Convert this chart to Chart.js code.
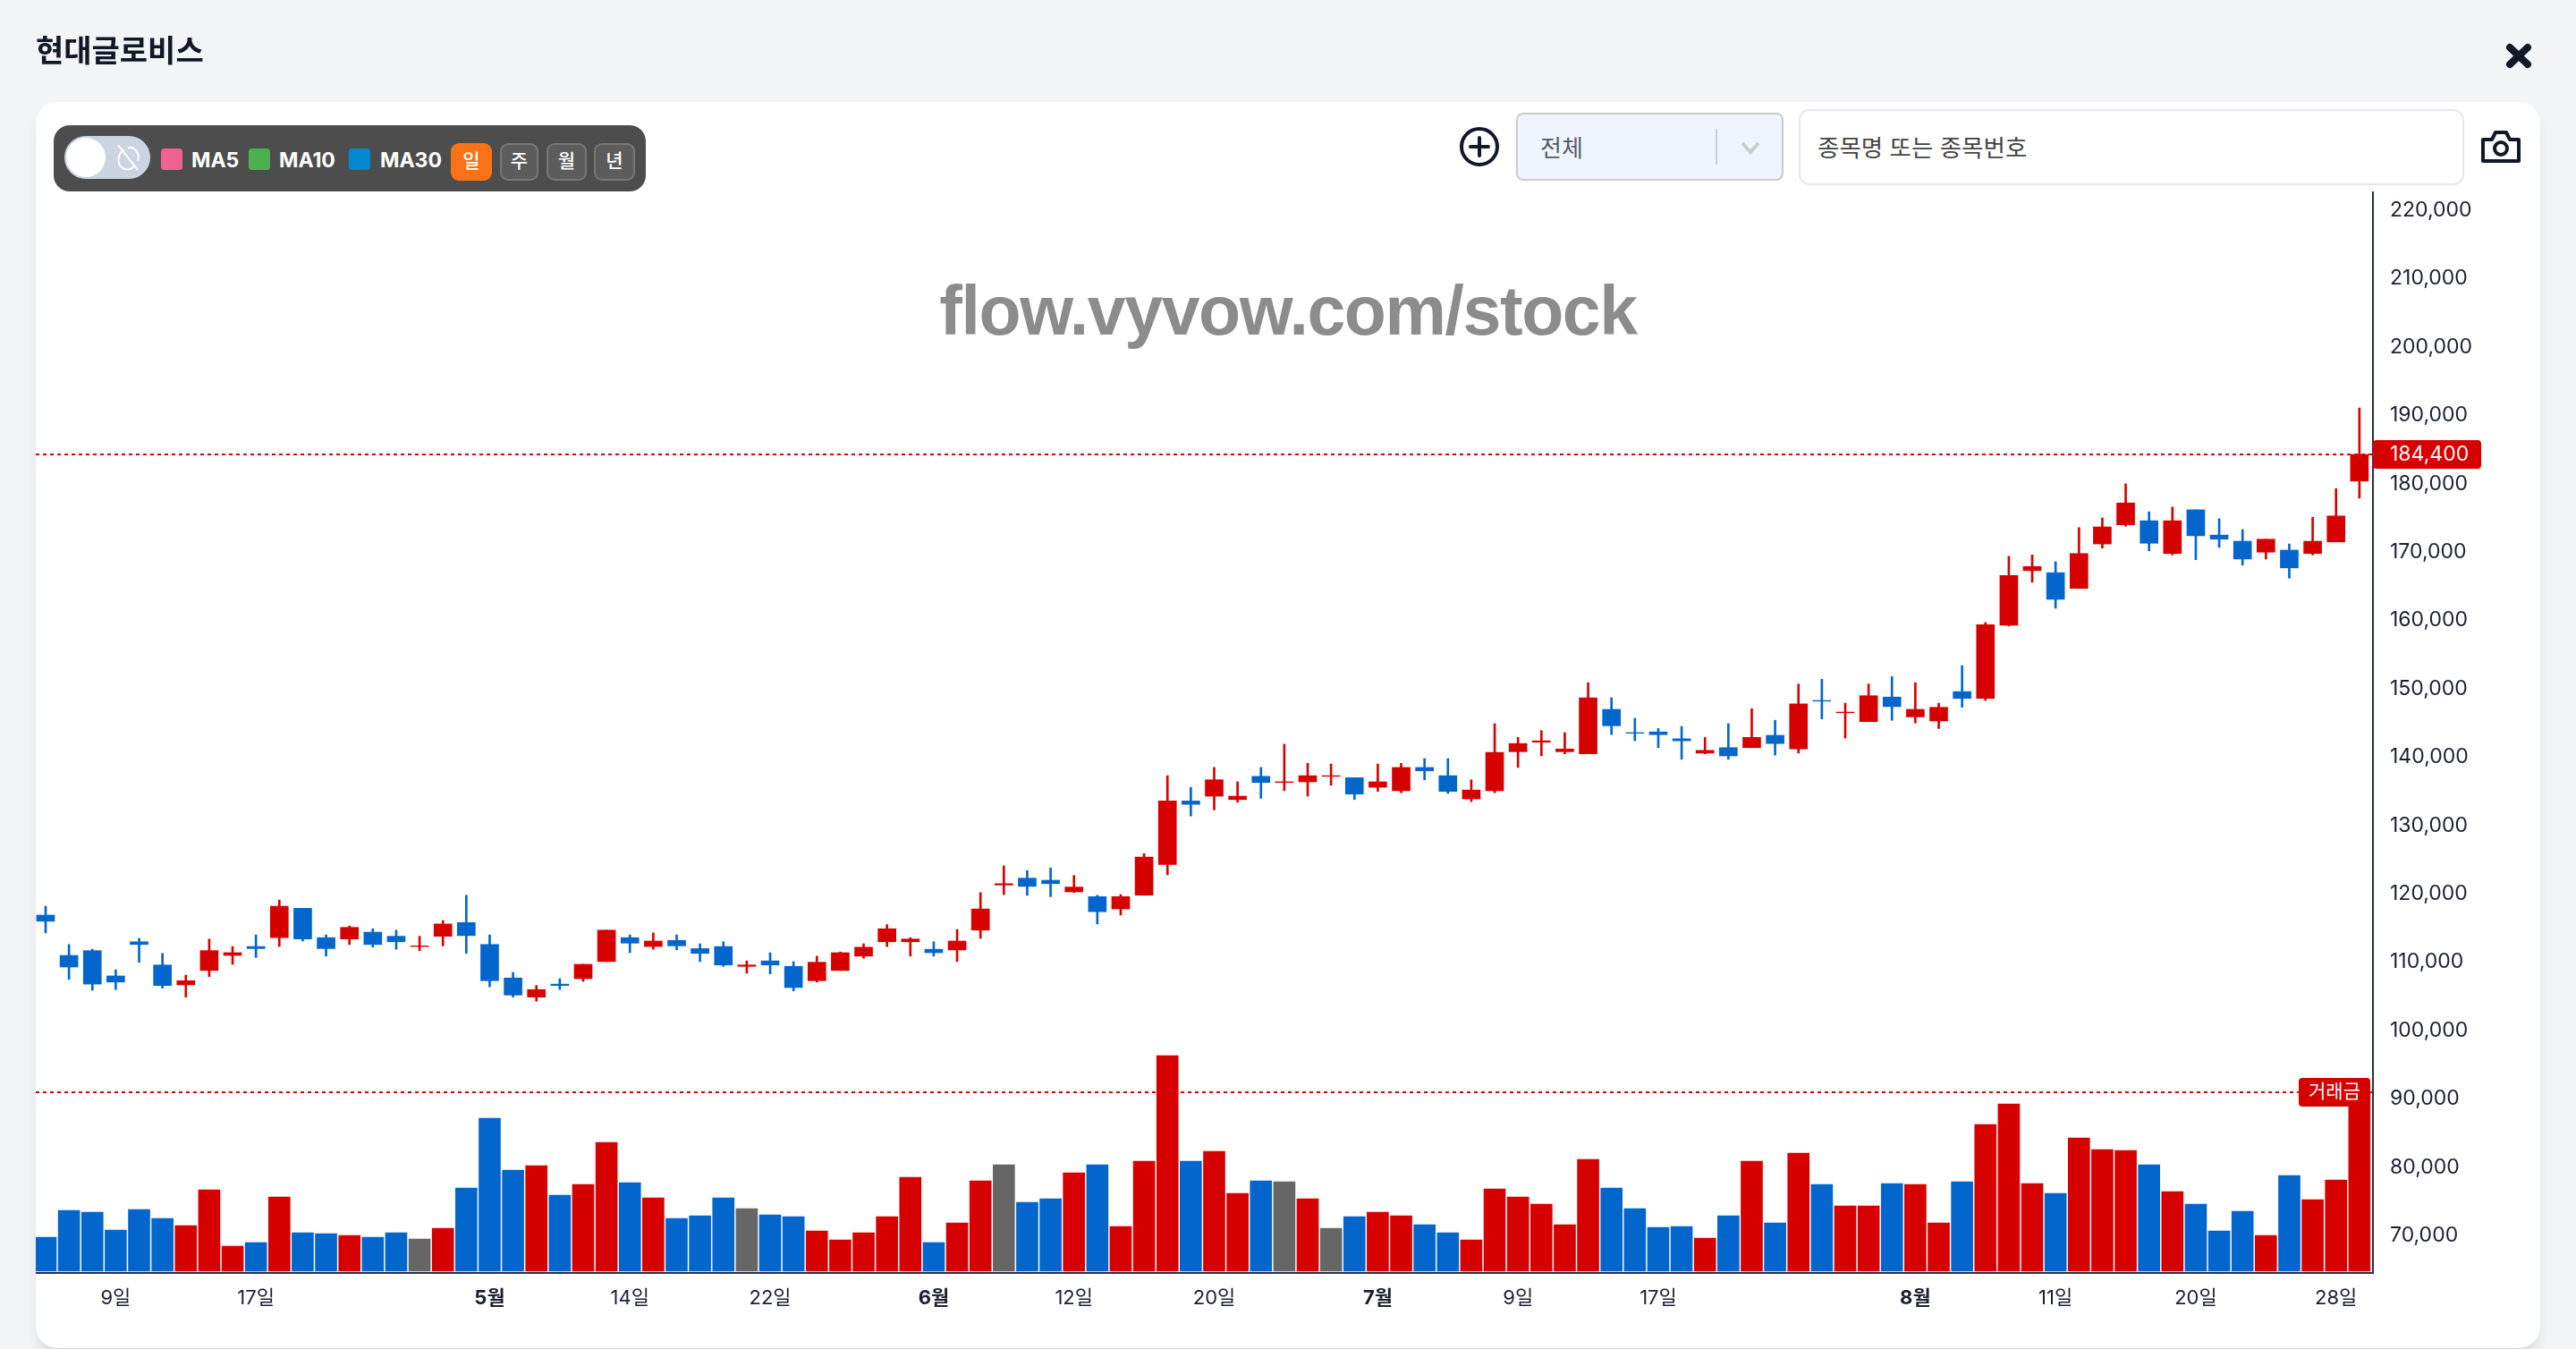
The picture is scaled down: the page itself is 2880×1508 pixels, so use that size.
<!DOCTYPE html>
<html lang="ko">
<head>
<meta charset="utf-8">
<title>현대글로비스</title>
<script src="https://cdn.jsdelivr.net/npm/chart.js@4"></script>
<style>
html, body { margin: 0; padding: 0; width: 2880px; height: 1508px; overflow: hidden; background: #f3f4f6; font-family: Inter, "Noto Sans CJK KR", sans-serif; color: #111827; }
.abs { position: absolute; box-sizing: border-box; }
#title { left: 40px; top: 33px; font: 600 34px/48px Inter, "Noto Sans CJK KR", sans-serif; color: #111827; }
#card { left: 40px; top: 114px; width: 2800px; height: 1393px; background: #fff; border-radius: 24px; box-shadow: 0 10px 15px -3px rgba(0,0,0,.1), 0 4px 6px -4px rgba(0,0,0,.1); }
#chart { position: absolute; left: 0; top: 0; }
#bar { left: 60px; top: 140px; width: 662px; height: 74px; background: #4d4d4d; border-radius: 18px; }
#track { left: 72px; top: 152px; width: 96px; height: 48px; background: #cbd5e1; border-radius: 24px; }
#knob { left: 74px; top: 154px; width: 44px; height: 44px; background: #fff; border-radius: 50%; }
.sw { top: 166px; width: 24px; height: 24px; border-radius: 4px; }
.ma { top: 161px; font: 700 23px/36px Inter, sans-serif; color: #fff; white-space: nowrap; }
.btn { top: 160px; height: 42px; border-radius: 9px; background: #5c5c5c; border: 2px solid #777; color: #fff; font: 500 21px/36px Inter, "Noto Sans CJK KR", sans-serif; text-align: center; }
.btn.on { background: #f97316; border-color: #f97316; }
#sel { left: 1695px; top: 126px; width: 299px; height: 76px; background: #f0f4ff; border: 2px solid #cccccc; border-radius: 8px; }
#selt { left: 1722px; top: 146px; font: 400 26px/36px "Noto Sans CJK KR", sans-serif; color: #555b66; }
#sep { left: 1918px; top: 144px; width: 2px; height: 40px; background: #cccccc; }
#inp { left: 2011px; top: 122px; width: 744px; height: 85px; background: #fff; border: 2px solid #e5e7eb; border-radius: 12px; }
#inpt { left: 2032px; top: 146px; font: 400 26.5px/36px "Noto Sans CJK KR", sans-serif; color: #444; white-space: nowrap; }
svg { position: absolute; overflow: visible; }
</style>
</head>
<body>
<div class="abs" id="card"></div>
<canvas id="chart" width="2880" height="1508"></canvas>
<div class="abs" id="title">현대글로비스</div>

<div class="abs" id="bar"></div>
<div class="abs" id="track"></div>
<div class="abs" id="knob"></div>
<svg style="left:130px;top:160px" width="26" height="32" viewBox="0 0 26 32" fill="none" stroke="#fff" stroke-width="2">
  <path d="M9 8 A10 11 0 1 0 21 24"/><path d="M13 5 A10 11 0 0 1 24 20"/><path d="M2 2 L24 30"/>
</svg>
<div class="abs sw" style="left:180px;background:#f06292"></div>
<div class="abs ma" style="left:214px">MA5</div>
<div class="abs sw" style="left:278px;background:#4caf50"></div>
<div class="abs ma" style="left:312px">MA10</div>
<div class="abs sw" style="left:390px;background:#0288d1"></div>
<div class="abs ma" style="left:425px">MA30</div>
<div class="abs btn on" style="left:504px;width:46px">일</div>
<div class="abs btn" style="left:559px;width:43px">주</div>
<div class="abs btn" style="left:611px;width:45px">월</div>
<div class="abs btn" style="left:664px;width:46px">년</div>

<svg style="left:1632px;top:142px" width="44" height="44" viewBox="0 0 44 44" fill="none" stroke="#111827" stroke-width="4" stroke-linecap="round">
  <circle cx="22" cy="22" r="20"/><path d="M22 12 V32 M12 22 H32"/>
</svg>
<div class="abs" id="sel"></div>
<div class="abs" id="selt">전체</div>
<div class="abs" id="sep"></div>
<svg style="left:1946px;top:158px" width="22" height="14" viewBox="0 0 22 14" fill="none" stroke="#cccccc" stroke-width="4">
  <path d="M2 2 L11 12 L20 2"/>
</svg>
<div class="abs" id="inp"></div>
<div class="abs" id="inpt">종목명 또는 종목번호</div>
<svg style="left:2774px;top:146px" width="44" height="36" viewBox="0 0 44 36" fill="none" stroke="#111827" stroke-width="4" stroke-linejoin="round">
  <path d="M2 10 H12 L16 2 H28 L32 10 H42 V34 H2 Z"/><circle cx="22" cy="20" r="7"/>
</svg>
<svg style="left:2801px;top:48px" width="30" height="29" viewBox="0 0 30 29" fill="none" stroke="#111827" stroke-width="8" stroke-linecap="round">
  <path d="M5 5 L25 24 M25 5 L5 24"/>
</svg>

<script>
// daily candles
const opens = [
    117000, 111100, 111800, 108100, 113100, 109700, 106800, 108900, 111100, 112400,
    113700, 118000, 113700, 113500, 114500, 113900, 112400, 113900, 115900, 112700,
    107800, 105000, 106900, 107700, 110200, 113700, 112400, 113300, 112100, 112400,
    109500, 110300, 109500, 107400, 108900, 111000, 113100, 113100, 112000, 111900,
    114800, 121400, 122400, 122100, 120400, 119700, 117900, 119900, 124400, 133700,
    134400, 133900, 137300, 136400, 136500, 137300, 137100, 135700, 135200, 138600,
    137400, 134000, 135200, 140900, 142300, 140900, 140600, 147100, 143700, 143800,
    142800, 140700, 141500, 141500, 143300, 141300, 148400, 146600, 145300, 148900,
    146000, 145400, 149700, 148700, 159400, 167400, 167100, 164800, 171300, 174100,
    174700, 169900, 176300, 172600, 171700, 170100, 170400, 169900, 171600, 180500,
];
const highs = [
    118300, 112700, 112000, 109000, 113600, 111400, 108200, 113500, 112400, 114100,
    119200, 118000, 114100, 115400, 115000, 114800, 113900, 116200, 119900, 114100,
    108600, 106700, 107700, 109800, 114800, 114100, 114400, 114100, 112800, 113100,
    110300, 111500, 110200, 111000, 111600, 112800, 115600, 113700, 113100, 114900,
    120300, 124200, 123500, 123900, 122800, 119900, 120000, 126000, 137400, 135700,
    138600, 136500, 138600, 142000, 139200, 139100, 137100, 139100, 139200, 139900,
    139900, 136800, 145000, 143000, 144000, 143700, 151000, 148800, 145800, 144300,
    144600, 143000, 145000, 147200, 145500, 150800, 151500, 148000, 150800, 151900,
    151000, 148000, 153500, 159800, 169500, 169700, 168700, 173700, 175100, 180100,
    176000, 176700, 176300, 175000, 173400, 172000, 171300, 175200, 179400, 191200,
];
const lows = [
    114400, 107600, 106000, 106100, 110100, 106300, 105000, 108000, 109800, 110800,
    112400, 113200, 111000, 112700, 112300, 112000, 111800, 112500, 111400, 106500,
    105000, 104400, 106100, 107300, 110200, 111500, 112000, 111900, 110200, 109500,
    108500, 108400, 105900, 107200, 108900, 110700, 112400, 111000, 111000, 110200,
    113600, 120000, 119900, 119700, 120300, 115700, 117000, 119900, 122900, 131500,
    132400, 133500, 134100, 135200, 134400, 136000, 133900, 135100, 134900, 136800,
    134800, 133600, 134900, 138600, 140300, 140600, 140600, 143400, 142500, 141500,
    139800, 140600, 139800, 141500, 140400, 140700, 145700, 142900, 145300, 145500,
    145100, 144300, 147400, 148400, 159300, 165700, 161900, 164800, 170700, 173900,
    170300, 169700, 169000, 170800, 168200, 169100, 166300, 169700, 171600, 178000,
];
const closes = [
    116100, 109400, 106900, 107200, 112700, 106700, 107400, 111800, 111500, 112100,
    118300, 113500, 112100, 115200, 112700, 113100, 112500, 115700, 114000, 107400,
    105300, 106100, 106700, 109800, 114800, 112900, 113200, 112500, 111400, 109700,
    109700, 109700, 106400, 110100, 111500, 112300, 115000, 113500, 111500, 113200,
    117900, 121600, 121200, 121600, 121100, 117500, 119700, 125500, 133700, 133200,
    136800, 134400, 136400, 136500, 137400, 137400, 134700, 136500, 138600, 138100,
    135100, 135300, 140800, 142100, 142500, 141300, 148800, 144700, 143600, 143400,
    142500, 141100, 140300, 143000, 142100, 147900, 148300, 146700, 149100, 147500,
    147100, 147400, 148700, 159500, 166700, 168000, 163200, 169900, 173800, 177300,
    171400, 174700, 172500, 172000, 169100, 172000, 167800, 171700, 175400, 184400,
];
// traded amount, axis has no printed scale so units are relative
const volumes = [
    114, 204, 198, 138, 207, 177, 153, 273, 84, 96,
    249, 129, 126, 120, 114, 129, 108, 144, 279, 513,
    339, 354, 255, 291, 432, 297, 246, 177, 186, 246,
    210, 189, 183, 135, 105, 129, 183, 315, 96, 162,
    303, 357, 231, 243, 330, 357, 150, 369, 723, 369,
    402, 261, 303, 300, 243, 144, 183, 198, 186, 156,
    129, 105, 276, 249, 225, 156, 375, 279, 210, 147,
    150, 111, 186, 369, 162, 396, 291, 219, 219, 294,
    291, 162, 300, 492, 561, 294, 261, 447, 408, 405,
    357, 267, 225, 135, 201, 120, 321, 240, 306, 600,
];
const flatBars = [16, 30, 41, 53, 55];

const tickIndexes = [3, 9, 19, 25, 31, 38, 44, 50, 57, 63, 69, 80, 86, 92, 98];
const tickLabels = ["9일", "17일", "5월", "14일", "22일", "6월", "12일", "20일", "7월", "9일", "17일", "8월", "11일", "20일", "28일"];
const priceTicks = [70000, 80000, 90000, 100000, 110000, 120000, 130000, 140000, 150000, 160000, 170000, 180000, 190000, 200000, 210000, 220000];

const lastPrice = 184400;
const volumeLine = 600;

const UP = "#d60000";
const DOWN = "#0366cc";
const FLAT = "#666666";
const TEXT = "#1a2030";
const AXIS = "#2b2f45";
const FONT = 'Inter, "Noto Sans CJK KR", sans-serif';

Chart.defaults.font.family = FONT;
Chart.defaults.color = TEXT;

const candlecolors = closes.map((c, i) => (c >= opens[i] ? UP : DOWN));
const volumecolors = volumes.map((v, i) => (flatBars.includes(i) ? FLAT : candlecolors[i]));

function label(ctx, text, x, y, w, h, font) {
    ctx.fillStyle = UP;
    ctx.beginPath();
    ctx.roundRect(x, y, w, h, 4);
    ctx.fill();
    ctx.fillStyle = "#fff";
    ctx.font = font;
    ctx.textAlign = "left";
    ctx.textBaseline = "middle";
    ctx.fillText(text, x + 19, y + h / 2);
}

const overlay = {
    id: "overlay",
    beforeDatasetsDraw(chart) {
        const { ctx, chartArea, scales } = chart;
        ctx.save();

        ctx.fillStyle = "#8c8c8c";
        ctx.font = 'bold 77px "Liberation Sans", Arial, sans-serif';
        ctx.letterSpacing = "-1.4px";
        ctx.textAlign = "center";
        ctx.textBaseline = "alphabetic";
        ctx.fillText("flow.vyvow.com/stock", 1440, 374);
        ctx.letterSpacing = "0px";

        ctx.strokeStyle = UP;
        ctx.lineWidth = 2;
        ctx.setLineDash([4, 4]);
        [scales.y.getPixelForValue(lastPrice), scales.vol.getPixelForValue(volumeLine)].forEach((py) => {
            ctx.beginPath();
            ctx.moveTo(chartArea.left, py);
            ctx.lineTo(chartArea.right, py);
            ctx.stroke();
        });
        ctx.restore();
    },
    afterDraw(chart) {
        const { ctx, chartArea, scales } = chart;
        ctx.save();

        // axis lines, drawn here so they land on whole pixels
        const right = Math.round(chartArea.right);
        const bottom = Math.round(chartArea.bottom);
        ctx.fillStyle = AXIS;
        ctx.fillRect(right - 1, chartArea.top, 2, bottom + 2 - chartArea.top);
        ctx.fillRect(chartArea.left, bottom, right + 1 - chartArea.left, 2);

        const py = scales.y.getPixelForValue(lastPrice);
        label(ctx, lastPrice.toLocaleString("en-US"), right, py - 16, 121, 32, `23px ${FONT}`);

        const vy = scales.vol.getPixelForValue(volumeLine);
        ctx.fillStyle = UP;
        ctx.beginPath();
        ctx.roundRect(2570, vy - 16, 80, 32, 4);
        ctx.fill();
        ctx.fillStyle = "#fff";
        ctx.font = `21px ${FONT}`;
        ctx.textAlign = "center";
        ctx.textBaseline = "middle";
        ctx.fillText("거래금", 2610, vy);
        ctx.restore();
    },
};

new Chart(document.getElementById("chart"), {
    type: "bar",
    data: {
        datasets: [
            {
                label: "body",
                data: opens.map((o, i) => ({ x: i, y: [o, closes[i]] })),
                backgroundColor: candlecolors,
                barThickness: 20,
                yAxisID: "y",
                grouped: false,
            },
            {
                label: "wick",
                data: highs.map((h, i) => ({ x: i, y: [lows[i], h] })),
                backgroundColor: candlecolors,
                barThickness: 2,
                yAxisID: "y",
                grouped: false,
            },
            {
                label: "거래금",
                data: volumes.map((v, i) => ({ x: i, y: v })),
                backgroundColor: volumecolors,
                barThickness: 24,
                yAxisID: "vol",
                grouped: false,
            },
        ],
    },
    options: {
        responsive: false,
        animation: false,
        devicePixelRatio: 1,
        layout: { padding: { left: 40, top: 214, right: 0, bottom: 0 } },
        plugins: { legend: { display: false }, tooltip: { enabled: false } },
        scales: {
            x: {
                type: "linear",
                offset: false,
                min: -0.421,
                max: 99.58,
                grid: { display: false },
                border: { display: false },
                afterBuildTicks: (scale) => {
                    scale.ticks = tickIndexes.map((v) => ({ value: v }));
                },
                afterFit: (scale) => {
                    scale.height = 86;
                },
                ticks: {
                    autoSkip: false,
                    maxRotation: 0,
                    padding: 8,
                    color: TEXT,
                    callback: (value) => tickLabels[tickIndexes.indexOf(value)],
                    font: (ctx) => ({
                        size: 22,
                        weight: ctx.tick && tickLabels[ctx.index].endsWith("월") ? "700" : "400",
                    }),
                },
            },
            y: {
                position: "right",
                min: 64770,
                max: 222880,
                grid: { display: false },
                border: { display: false },
                afterBuildTicks: (scale) => {
                    scale.ticks = priceTicks.map((v) => ({ value: v }));
                },
                afterFit: (scale) => {
                    scale.width = 227;
                },
                ticks: {
                    padding: 11,
                    labelOffset: -1,
                    color: TEXT,
                    font: { size: 23 },
                    callback: (value) => value.toLocaleString("en-US"),
                },
            },
            vol: {
                display: false,
                min: -3,
                max: 3621,
            },
        },
    },
    plugins: [overlay],
});
</script>
</body>
</html>
